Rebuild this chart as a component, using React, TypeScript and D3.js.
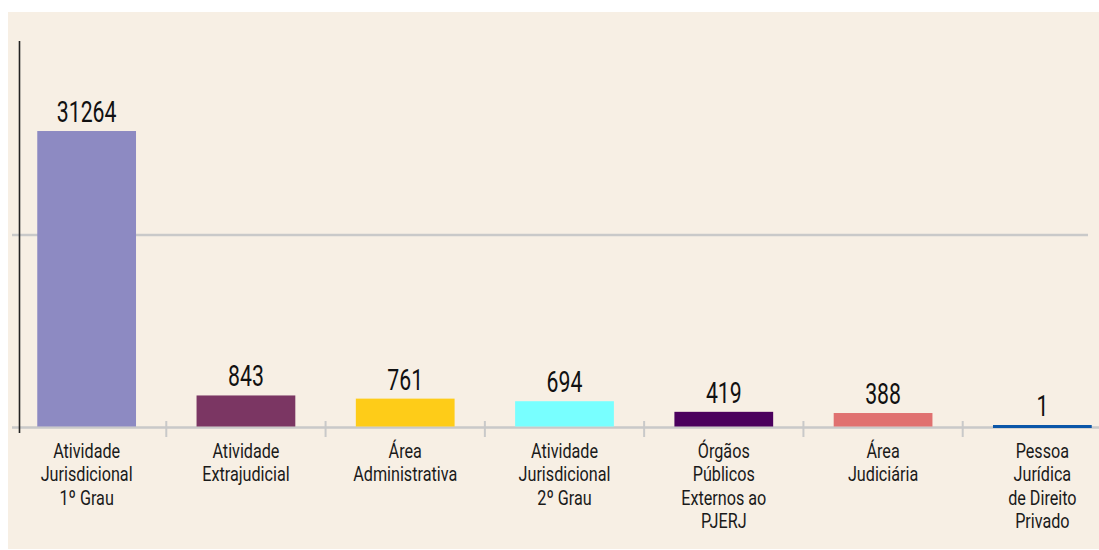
import { useMemo } from "react";
import * as d3 from "d3";

// categories (label lines) and counts
const categories = [
  "Atividade Jurisdicional 1º Grau",
  "Atividade Extrajudicial",
  "Área Administrativa",
  "Atividade Jurisdicional 2º Grau",
  "Órgãos Públicos Externos ao PJERJ",
  "Área Judiciária",
  "Pessoa Jurídica de Direito Privado",
];
const labelLines = [
  ["Atividade", "Jurisdicional", "1º Grau"],
  ["Atividade", "Extrajudicial"],
  ["Área", "Administrativa"],
  ["Atividade", "Jurisdicional", "2º Grau"],
  ["Órgãos", "Públicos", "Externos ao", "PJERJ"],
  ["Área", "Judiciária"],
  ["Pessoa", "Jurídica", "de Direito", "Privado"],
];
const values = [31264, 843, 761, 694, 419, 388, 1];
const colors = ["#8d8ac2", "#7b3663", "#fecc18", "#78ffff", "#4b005d", "#e07170", "#0b56a8"];
const gridValues = [5000];

const FONT = "Roboto, 'Liberation Sans', sans-serif";

export default function App() {
  const height = 537;
  const BASE = 428;

  const x = useMemo(
    () => d3.scaleBand().domain(categories).range([7, 1122]).paddingInner(0.38).paddingOuter(0.19),
    []
  );
  // lower half for 0–5000, upper half compressed
  const y = useMemo(() => d3.scaleLinear().domain([0, 5000, 54000]).range([BASE, 235, 41]), []);

  const tickXs = categories.slice(1).map((c, i) => {
    const prev = x(categories[i])! + x.bandwidth();
    return (prev + x(c)!) / 2;
  });

  return (
    <svg
      height={height}
      style={{
        display: "block",
        position: "fixed",
        left: 8,
        top: 12,
        width: "calc(100vw - 8px)",
        background: "#f7efe4",
      }}
    >
      <g transform="translate(-8,-12)" fontFamily={FONT}>
        {gridValues.map((v) => (
          <line key={v} x1={12} x2={1088} y1={y(v)} y2={y(v)} stroke="#c9c9c9" strokeWidth={2.3} />
        ))}

        <line x1={12} x2={1110} y1={BASE - 0.5} y2={BASE - 0.5} stroke="#c9c9c9" strokeWidth={2.5} />
        {tickXs.map((tx, i) => (
          <line key={i} x1={tx} x2={tx} y1={421} y2={437} stroke="#c9c9c9" strokeWidth={2} />
        ))}

        {values.map((v, i) => {
          const c = categories[i];
          const cx = x(c)! + x.bandwidth() / 2;
          const top = Math.min(y(v), BASE - 3);
          const bottom = i === values.length - 1 ? BASE : BASE - 1.5;
          return (
            <g key={c}>
              <rect x={x(c)} y={top} width={x.bandwidth()} height={bottom - top} fill={colors[i]} />
              <text
                transform={`translate(${cx},${top - 9}) scale(0.72,1)`}
                textAnchor="middle"
                fontSize={29.5}
                fill="#111"
              >
                {v}
              </text>
            </g>
          );
        })}

        <line x1={19.5} x2={19.5} y1={41} y2={433} stroke="#222" strokeWidth={1.6} />

        {labelLines.map((lines, i) => {
          const cx = x(categories[i])! + x.bandwidth() / 2;
          return (
            <text
              key={i}
              transform={`translate(${cx},${BASE + 30}) scale(0.77,1)`}
              textAnchor="middle"
              fontSize={21}
              fill="#1a1a1a"
            >
              {lines.map((l, j) => (
                <tspan key={j} x={0} dy={j === 0 ? 0 : 23.5}>
                  {l}
                </tspan>
              ))}
            </text>
          );
        })}
      </g>
    </svg>
  );
}
